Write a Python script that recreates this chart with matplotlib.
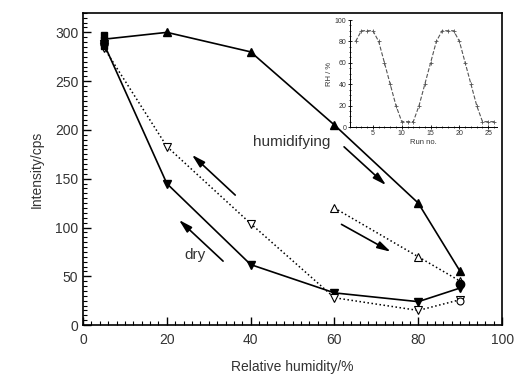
import matplotlib
matplotlib.use("Agg")
import matplotlib.pyplot as plt
from matplotlib.ticker import MultipleLocator

plt.rcParams['font.family'] = ['Liberation Sans', 'DejaVu Sans']

# Main data
rh_hum1 = [5, 20, 40, 60, 80, 90]
int_hum1 = [293, 300, 280, 205, 125, 55]

rh_dry1 = [90, 80, 60, 40, 20, 5]
int_dry1 = [38, 24, 33, 62, 145, 288]

rh_dry2 = [90, 80, 60, 40, 20, 5]
int_dry2 = [26, 15, 28, 104, 183, 284]

rh_hum2 = [60, 80, 90]
int_hum2 = [120, 70, 45]

rh_start = [5, 5, 5]
int_start = [297, 292, 286]

rh_end_filled = [90]
int_end_filled = [42]
rh_end_open = [90]
int_end_open = [25]

# Inset data
run_no = [2, 3, 4, 5, 6, 7, 8, 9, 10, 11, 12, 13, 14, 15, 16, 17, 18, 19, 20, 21, 22, 23, 24, 25, 26]
rh_run = [80, 90, 90, 90, 80, 60, 40, 20, 5, 5, 5, 20, 40, 60, 80, 90, 90, 90, 80, 60, 40, 20, 5, 5, 5]

tc = '#333333'
fig = plt.figure(figsize=(5.16, 3.78), dpi=100)
ax = fig.add_axes([0.161, 0.140, 0.812, 0.826])

ax.plot(rh_hum1, int_hum1, '-', color='black', lw=1.2, marker='^', ms=6, mfc='black', zorder=3)
ax.plot(rh_dry1, int_dry1, '-', color='black', lw=1.2, marker='v', ms=6, mfc='black', zorder=3)
ax.plot(rh_dry2, int_dry2, ':', color='black', lw=1.1, marker='v', ms=6, mfc='white', mew=0.8, zorder=3)
ax.plot(rh_hum2, int_hum2, ':', color='black', lw=1.1, marker='^', ms=6, mfc='white', mew=0.8, zorder=3)
ax.plot(rh_start, int_start, 's', color='black', ms=5, zorder=4)
ax.plot(rh_end_filled, int_end_filled, 'o', color='black', ms=6, zorder=4)
ax.plot(rh_end_open, int_end_open, 'o', color='black', ms=5, mfc='white', mew=0.8, zorder=4)

arrow_kw = dict(arrowstyle='-|>,head_length=0.8,head_width=0.22', color='black', lw=1.2)
for tail, head in [((61.8, 184.6), (72.8, 141.5)),
                   ((61.1, 104.6), (74.0, 73.8)),
                   ((36.8, 131.3), (25.5, 176.4)),
                   ((33.9, 63.6), (22.4, 109.7))]:
    ax.annotate('', xy=head, xytext=tail, arrowprops=arrow_kw)

ax.text(49.9, 187.7, 'humidifying', fontsize=11, color=tc, ha='center', va='center')
ax.text(26.7, 71.8, 'dry', fontsize=11, color=tc, ha='center', va='center')

ax.set_xlim(0, 100)
ax.set_ylim(0, 320)
ax.xaxis.set_major_locator(MultipleLocator(20))
ax.xaxis.set_minor_locator(MultipleLocator(2))
ax.yaxis.set_major_locator(MultipleLocator(50))
ax.yaxis.set_minor_locator(MultipleLocator(5))
ax.tick_params(which='both', direction='in', top=False, right=False, labelsize=10, labelcolor=tc)
ax.tick_params(which='major', length=6, width=1)
ax.tick_params(which='minor', length=3, width=0.8)
ax.tick_params(axis='x', which='major', pad=6)
ax.set_xlabel('Relative humidity/%', fontsize=10, color=tc, labelpad=9)
ax.set_ylabel('Intensity/cps', fontsize=10, color=tc, labelpad=8)
for s in ax.spines.values():
    s.set_linewidth(1.2)

# Inset
ins = fig.add_axes([0.678, 0.664, 0.285, 0.283])
ins.plot(run_no, rh_run, '--', color='#555555', lw=0.8, marker='+', ms=3, mew=0.6)
ins.set_xlim(1, 26.5)
ins.set_ylim(0, 100)
ins.spines['top'].set_visible(False)
ins.spines['right'].set_visible(False)
ins.xaxis.set_major_locator(MultipleLocator(5))
ins.xaxis.set_minor_locator(MultipleLocator(1))
ins.yaxis.set_major_locator(MultipleLocator(20))
ins.yaxis.set_minor_locator(MultipleLocator(5))
ins.tick_params(which='both', direction='inout', labelsize=5, labelcolor=tc, pad=1)
ins.tick_params(which='major', length=3, width=0.6)
ins.tick_params(which='minor', length=1.5, width=0.5)
ins.set_xlabel('Run no.', fontsize=5.5, color=tc, labelpad=1)
ins.set_ylabel('RH / %', fontsize=5.5, color=tc, labelpad=1)
for s in ins.spines.values():
    s.set_linewidth(0.7)
ins.patch.set_alpha(0)

fig.savefig('out.png', dpi=100)
